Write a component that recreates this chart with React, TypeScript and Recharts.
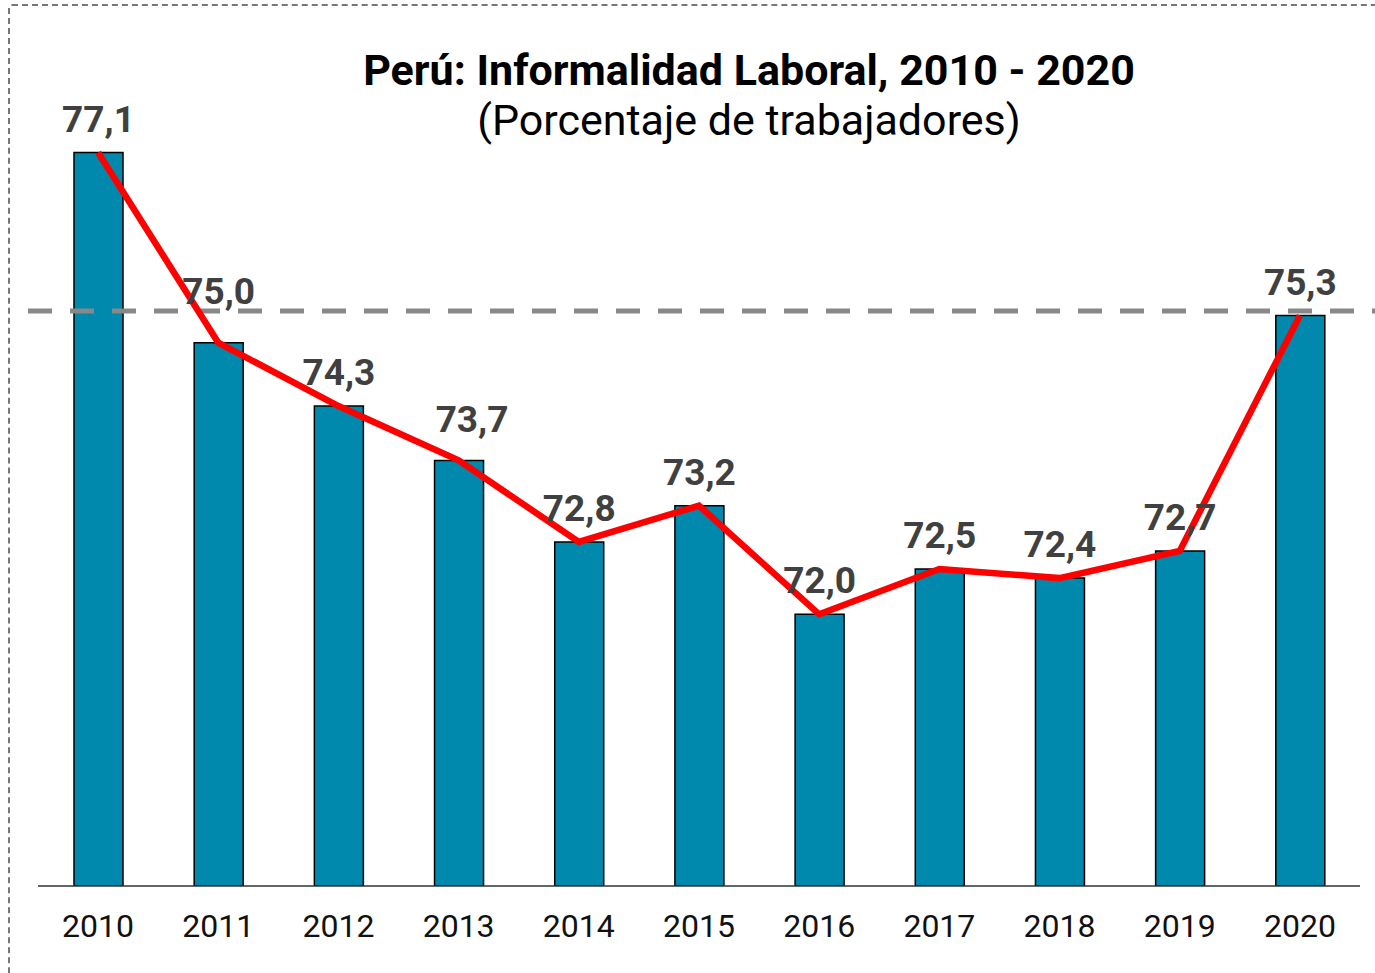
import { Bar, ComposedChart, LabelList, Line, ReferenceLine, XAxis, YAxis } from 'recharts';

// Perú: informal employment rate, share of workers (%)
const years = ['2010', '2011', '2012', '2013', '2014', '2015', '2016', '2017', '2018', '2019', '2020'];
const informalidad = [77.1, 75.0, 74.3, 73.7, 72.8, 73.2, 72.0, 72.5, 72.4, 72.7, 75.3];
const referenceLevel = 75.35;
const yDomain = [69, 78];

const data = years.map((year, i) => ({ year, value: informalidad[i] }));

const FONT = 'Roboto, "Noto Sans", sans-serif';
const BAR_FILL = '#0088ad';
const LINE_RED = '#ff0000';

const formatValue = (v: number) => v.toFixed(1).replace('.', ',');

// a couple of labels sit a bit off their bar in the original
const labelNudge: Record<number, [number, number]> = { 1: [0, -18], 3: [13, -7] };

function BarValueLabel(props: any) {
  const { x, y, width, value, index } = props;
  const [dx, dy] = labelNudge[index] ?? [0, 0];
  return (
    <text
      x={Number(x) + Number(width) / 2 + dx}
      y={Number(y) - 21 + dy}
      textAnchor="middle"
      fontFamily={FONT}
      fontWeight={700}
      fontSize={37}
      fill="#404040"
    >
      {formatValue(Number(value))}
    </text>
  );
}

function DashedLevel(props: any) {
  const { x1, y1, x2, y2 } = props;
  return (
    <line
      x1={x1 - 10}
      y1={y1}
      x2={x2 + 20}
      y2={y2}
      stroke="#888"
      strokeWidth={5}
      strokeDasharray="24 18"
    />
  );
}

export default function App() {
  return (
    <div style={{ position: 'absolute', left: 0, top: 0, width: 1375, height: 973, background: '#fff' }}>
      <div
        style={{
          position: 'absolute',
          left: 8,
          top: 4,
          width: 1365,
          height: 967,
          borderTop: '2px dashed #777',
          borderLeft: '2px dashed #777',
          borderTopLeftRadius: 4,
        }}
      />
      <div style={{ position: 'absolute', left: 0, top: 0 }}>
        <ComposedChart
          width={1375}
          height={973}
          data={data}
          margin={{ top: 71, right: 15, bottom: 27, left: 38 }}
          barCategoryGap={0}
        >
          <XAxis
            dataKey="year"
            height={60}
            tickLine={false}
            tickSize={0}
            tickMargin={28}
            axisLine={{ stroke: '#333', strokeWidth: 1.5 }}
            tick={{ fontFamily: FONT, fontSize: 32, fill: '#111' }}
            interval={0}
          />
          <YAxis hide domain={yDomain} allowDataOverflow />
          <Bar
            dataKey="value"
            fill={BAR_FILL}
            stroke="#000"
            strokeWidth={1.5}
            barSize={49}
            isAnimationActive={false}
          >
            <LabelList dataKey="value" content={BarValueLabel} />
          </Bar>
          <ReferenceLine y={referenceLevel} shape={DashedLevel} />
          <Line
            type="linear"
            dataKey="value"
            stroke={LINE_RED}
            strokeWidth={6.5}
            dot={false}
            activeDot={false}
            isAnimationActive={false}
          />
        </ComposedChart>
      </div>
      <svg
        width={1375}
        height={160}
        style={{ position: 'absolute', left: 0, top: 0, pointerEvents: 'none' }}
      >
        <text x={749} y={85} textAnchor="middle" fontFamily={FONT} fontWeight={700} fontSize={43} fill="#000">
          Perú: Informalidad Laboral, 2010 - 2020
        </text>
        <text x={749} y={135} textAnchor="middle" fontFamily={FONT} fontSize={43} fill="#000">
          (Porcentaje de trabajadores)
        </text>
      </svg>
    </div>
  );
}
